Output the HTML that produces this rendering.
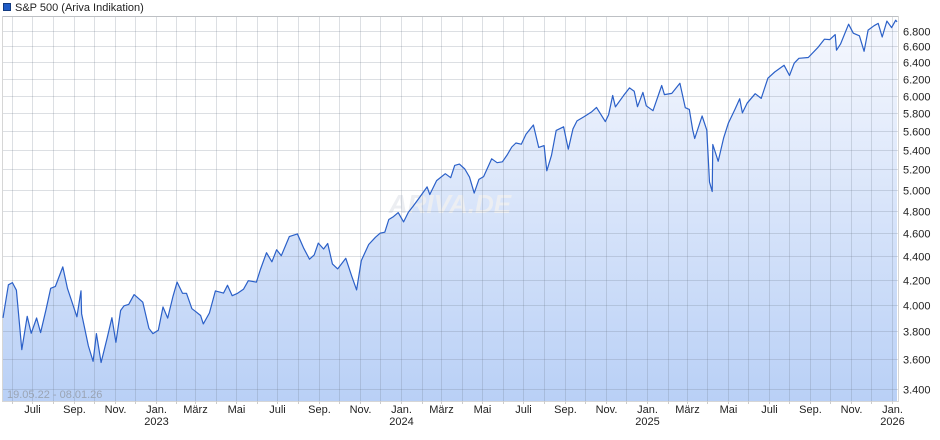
<!DOCTYPE html>
<html><head><meta charset="utf-8">
<style>
body{margin:0;background:#fff;width:940px;height:435px;overflow:hidden;font-family:"Liberation Sans",sans-serif;}
svg text{font-family:"Liberation Sans",sans-serif;}
</style></head>
<body>
<svg id="chart" width="940" height="435" xmlns="http://www.w3.org/2000/svg">
<defs>
<linearGradient id="fillg" x1="0" y1="0" x2="0" y2="1">
<stop offset="0" stop-color="#f6f8fe"/><stop offset="1" stop-color="#b9d0f6"/>
</linearGradient>
</defs>
<rect x="3.5" y="3.5" width="7" height="7" fill="#1f5bc6" stroke="#123a80"/>
<text x="15" y="11" font-size="11" fill="#222">S&amp;P 500 (Ariva Indikation)</text>
<g id="plot"></g>
</svg>
<script>
const dates=["2022-05-19","2022-05-27","2022-06-02","2022-06-08","2022-06-16","2022-06-24","2022-06-30","2022-07-08","2022-07-14","2022-07-22","2022-07-29","2022-08-05","2022-08-16","2022-08-23","2022-08-29","2022-09-06","2022-09-12","2022-09-13","2022-09-23","2022-09-30","2022-10-05","2022-10-12","2022-10-21","2022-10-28","2022-11-03","2022-11-10","2022-11-15","2022-11-22","2022-11-30","2022-12-01","2022-12-13","2022-12-22","2022-12-28","2023-01-05","2023-01-12","2023-01-19","2023-01-27","2023-02-02","2023-02-10","2023-02-16","2023-02-24","2023-03-01","2023-03-09","2023-03-13","2023-03-22","2023-03-31","2023-04-12","2023-04-18","2023-04-25","2023-05-03","2023-05-12","2023-05-19","2023-05-31","2023-06-06","2023-06-15","2023-06-23","2023-06-30","2023-07-07","2023-07-19","2023-07-31","2023-08-09","2023-08-18","2023-08-25","2023-08-31","2023-09-08","2023-09-14","2023-09-21","2023-09-29","2023-10-11","2023-10-20","2023-10-27","2023-11-03","2023-11-14","2023-11-24","2023-12-01","2023-12-08","2023-12-14","2023-12-21","2023-12-28","2024-01-05","2024-01-12","2024-01-19","2024-01-29","2024-02-09","2024-02-13","2024-02-23","2024-03-07","2024-03-15","2024-03-21","2024-03-28","2024-04-05","2024-04-12","2024-04-19","2024-04-26","2024-05-03","2024-05-15","2024-05-23","2024-05-31","2024-06-07","2024-06-14","2024-06-20","2024-06-28","2024-07-05","2024-07-16","2024-07-24","2024-08-01","2024-08-05","2024-08-12","2024-08-19","2024-08-30","2024-09-06","2024-09-13","2024-09-19","2024-09-30","2024-10-11","2024-10-18","2024-10-31","2024-11-05","2024-11-11","2024-11-15","2024-11-27","2024-12-06","2024-12-13","2024-12-18","2024-12-26","2024-12-31","2025-01-10","2025-01-23","2025-01-27","2025-02-07","2025-02-19","2025-02-27","2025-03-05","2025-03-10","2025-03-13","2025-03-24","2025-03-31","2025-04-04","2025-04-08","2025-04-09","2025-04-17","2025-04-25","2025-05-02","2025-05-12","2025-05-19","2025-05-23","2025-05-30","2025-06-11","2025-06-20","2025-06-30","2025-07-10","2025-07-24","2025-08-01","2025-08-08","2025-08-15","2025-08-29","2025-09-12","2025-09-22","2025-09-30","2025-10-08","2025-10-10","2025-10-16","2025-10-28","2025-11-04","2025-11-13","2025-11-20","2025-11-26","2025-12-05","2025-12-11","2025-12-17","2025-12-24","2025-12-31","2026-01-06","2026-01-08"];
const values=[3900,4158,4176,4115,3667,3912,3785,3899,3790,3962,4130,4145,4305,4128,4031,3908,4110,3932,3693,3585,3783,3577,3752,3901,3720,3956,3992,4003,4080,4076,4020,3822,3783,3808,3983,3898,4070,4180,4090,4090,3970,3951,3918,3855,3937,4109,4092,4154,4071,4090,4124,4191,4180,4283,4425,4348,4450,4399,4565,4589,4467,4370,4406,4508,4457,4505,4330,4288,4377,4224,4117,4358,4496,4559,4595,4604,4719,4746,4783,4697,4784,4840,4928,5027,4953,5089,5157,5117,5241,5254,5204,5123,4967,5100,5128,5308,5268,5277,5347,5431,5473,5460,5567,5667,5427,5446,5186,5344,5608,5648,5408,5626,5713,5762,5815,5864,5705,5782,6001,5870,5998,6090,6051,5872,6037,5882,5827,6119,6012,6026,6144,5861,5842,5614,5521,5767,5612,5074,4982,5457,5283,5525,5686,5844,5963,5802,5912,6022,5967,6205,6280,6363,6238,6389,6449,6460,6584,6693,6688,6753,6552,6630,6890,6771,6737,6538,6812,6870,6901,6721,6932,6845,6944,6921];
const yTicks=[3400,3600,3800,4000,4200,4400,4600,4800,5000,5200,5400,5600,5800,6000,6200,6400,6600,6800,7000];
const monthNames=["Jan.","Feb.","März","Apr.","Mai","Juni","Juli","Aug.","Sep.","Okt.","Nov.","Dez."];

const L=3,R=897,T=16,B=401;
const d0=new Date("2022-05-19T00:00:00Z"),d1=new Date("2026-01-08T00:00:00Z");
const span=(d1-d0)/864e5;
function xs(ds){return L+((new Date(ds+"T00:00:00Z")-d0)/864e5)*(R-L)/span;}
function ys(v){return 31+Math.log(6800/v)*516;}
const NS="http://www.w3.org/2000/svg";
const g=document.getElementById("plot");
function mk(t,a){const e=document.createElementNS(NS,t);for(const k in a)e.setAttribute(k,a[k]);g.appendChild(e);return e;}

const bg=mk("rect",{x:2.5,y:16.5,width:896,height:385,fill:"#fff",stroke:"#d6d6d6"});



let pts=dates.map((d,i)=>[xs(d),ys(values[i])]);
let lp="M"+pts.map(p=>p[0].toFixed(1)+","+p[1].toFixed(1)).join("L");
const area=mk("path",{d:lp+"L"+pts[pts.length-1][0].toFixed(1)+","+B+"L"+pts[0][0].toFixed(1)+","+B+"Z",fill:"url(#fillg)"});



const wm=mk("text",{x:450,y:213,"font-size":"26","font-weight":"bold","font-style":"italic",fill:"#eceef2","text-anchor":"middle"});
wm.textContent="ARIVA.DE";



yTicks.forEach(v=>{
  const y=Math.round(ys(v))+0.5;
  if(y<T||y>B)return;
  const ln=mk("line",{x1:3,x2:898,y1:y,y2:y,stroke:"rgba(110,120,140,0.24)"});
  
  
  if(v<7000){
    const t=mk("text",{x:903,y:y+4,"font-size":"11",fill:"#222"});
    t.textContent=(v/1000).toFixed(3);
    
    
  }
});
for(let yr=2022;yr<=2026;yr++)for(let m=0;m<12;m++){
  const ds=yr+"-"+String(m+1).padStart(2,"0")+"-01";
  const x=xs(ds);if(x<L||x>R+2)continue;
  const xx=Math.round(x)+0.5;
  const ln=mk("line",{x1:xx,x2:xx,y1:17,y2:401,stroke:"rgba(110,120,140,0.24)"});
  
  
  const tk=mk("line",{x1:xx,x2:xx,y1:401,y2:404,stroke:"#ccc"});
  
  
  if(m%2===0){
    const t=mk("text",{x:xx,y:413,"font-size":"11",fill:"#222","text-anchor":"middle"});
    t.textContent=monthNames[m];
    
    
    if(m===0){
      const t2=mk("text",{x:xx,y:425,"font-size":"11",fill:"#222","text-anchor":"middle"});
      t2.textContent=String(yr);
      
      
    }
  }
}
const line=mk("path",{d:lp,fill:"none",stroke:"#2b60c8","stroke-width":"1.2","stroke-linejoin":"round"});



const dr=mk("text",{x:7,y:398,"font-size":"11",fill:"#9aa4b4"});
dr.textContent="19.05.22 - 08.01.26";


</script>
</body></html>
